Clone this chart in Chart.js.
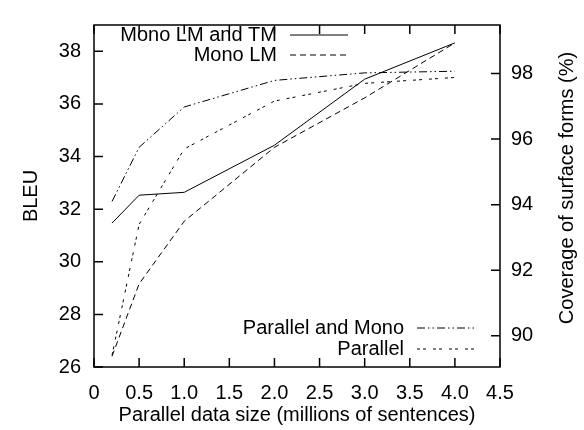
<!DOCTYPE html>
<html>
<head>
<meta charset="utf-8">
<script src="https://cdn.jsdelivr.net/npm/chart.js@4.4.0/dist/chart.umd.min.js"></script>
<style>
  html, body { margin: 0; padding: 0; background: #fff; }
  #wrap { width: 584px; height: 430px; }
</style>
</head>
<body>
<div id="wrap"><canvas id="chart" width="584" height="430"></canvas></div>
<script>
// data size in millions of sentences
const sizes = [0.2, 0.5, 1, 2, 3, 4]

// BLEU (left axis)
const monoLmTm = [31.47, 32.53, 32.64, 34.43, 36.94, 38.32]
const monoLm = [26.41, 29.16, 31.54, 34.35, 36.23, 38.32]

// coverage of surface forms in % (right axis)
const parallelMono = [94.10, 95.75, 96.98, 97.79, 98.02, 98.07]
const parallel = [89.41, 93.40, 95.70, 97.16, 97.70, 97.88]

const xTicks = [0, 0.5, 1, 1.5, 2, 2.5, 3, 3.5, 4, 4.5]
const bleuTicks = [26, 28, 30, 32, 34, 36, 38]
const coverTicks = [90, 92, 94, 96, 98]

const coverTitle = 'Coverage of surface forms (%)'

const FONT = 'Liberation Sans, Arial, Helvetica, sans-serif'
const SIZE = 20

function points(ys) {
    return sizes.map((x, i) => ({x: x, y: ys[i]}))
}

function fixTicks(list) {
    return function(scale) {
        scale.ticks = list.map(v => ({value: v}))
    }
}

// gnuplot-like frame with inward ticks, the key and the right title
const framePlugin = {
    id: 'frame',
    afterDraw(chart) {
        const ctx = chart.ctx
        const a = chart.chartArea
        const tick = 9
        ctx.save()
        ctx.strokeStyle = '#000'
        ctx.lineWidth = 1.5
        ctx.setLineDash([])
        ctx.strokeRect(a.left, a.top, a.right - a.left, a.bottom - a.top)
        ctx.beginPath()
        xTicks.forEach(v => {
            const px = chart.scales.x.getPixelForValue(v)
            ctx.moveTo(px, a.bottom); ctx.lineTo(px, a.bottom - tick)
            ctx.moveTo(px, a.top); ctx.lineTo(px, a.top + tick)
        })
        bleuTicks.forEach(v => {
            const py = chart.scales.y.getPixelForValue(v)
            ctx.moveTo(a.left, py); ctx.lineTo(a.left + tick, py)
        })
        coverTicks.forEach(v => {
            const py = chart.scales.y2.getPixelForValue(v)
            ctx.moveTo(a.right, py); ctx.lineTo(a.right - tick, py)
        })
        ctx.stroke()

        ctx.font = SIZE + 'px ' + FONT
        ctx.fillStyle = '#000'
        ctx.textBaseline = 'middle'

        // right axis title, reading bottom to top like the left one
        ctx.save()
        ctx.translate(567, (a.top + a.bottom) / 2 - 8)
        ctx.rotate(-Math.PI / 2)
        ctx.textAlign = 'center'
        ctx.fillText(coverTitle, 0, 0)
        ctx.restore()

        // key
        ctx.textAlign = 'right'
        const keys = [
            {ds: 0, tx: 277, y: 35, x1: 290, x2: 348},
            {ds: 1, tx: 277, y: 55, x1: 290, x2: 348},
            {ds: 2, tx: 404, y: 328, x1: 417, x2: 475},
            {ds: 3, tx: 404, y: 349, x1: 417, x2: 475}
        ]
        keys.forEach(k => {
            const ds = chart.data.datasets[k.ds]
            ctx.fillText(ds.label, k.tx, k.y)
            ctx.beginPath()
            ctx.lineWidth = 1
            ctx.setLineDash(ds.borderDash || [])
            ctx.moveTo(k.x1, k.y)
            ctx.lineTo(k.x2, k.y)
            ctx.stroke()
        })
        ctx.restore()
    }
}

const data = {
    datasets: [
        {label: 'Mono LM and TM', data: points(monoLmTm), yAxisID: 'y', borderDash: []},
        {label: 'Mono LM', data: points(monoLm), yAxisID: 'y', borderDash: [6, 4]},
        {label: 'Parallel and Mono', data: points(parallelMono), yAxisID: 'y2', borderDash: [8, 3, 1.5, 3, 1.5, 3]},
        {label: 'Parallel', data: points(parallel), yAxisID: 'y2', borderDash: [3, 3, 3, 7]}
    ].map(d => Object.assign(d, {
        borderColor: '#000',
        borderWidth: 1,
        pointRadius: 0,
        tension: 0,
        fill: false
    }))
}

const config = {
    type: 'line',
    data: data,
    options: {
        responsive: false,
        animation: false,
        layout: {padding: {top: 15, left: 0, right: 0, bottom: 0}},
        plugins: {legend: {display: false}, tooltip: {enabled: false}},
        scales: {
            x: {
                type: 'linear', min: 0, max: 4.5,
                afterBuildTicks: fixTicks(xTicks),
                afterFit: s => { s.height = 63 },
                grid: {display: false, drawTicks: false},
                border: {display: false},
                ticks: {color: '#000', font: {family: FONT, size: SIZE}, padding: 14,
                        maxRotation: 0, autoSkip: false},
                title: {display: true, text: 'Parallel data size (millions of sentences)',
                        color: '#000', font: {family: FONT, size: SIZE}, padding: 3}
            },
            y: {
                position: 'left', min: 26, max: 39,
                afterBuildTicks: fixTicks(bleuTicks),
                afterFit: s => { s.width = 94 },
                grid: {display: false, drawTicks: false},
                border: {display: false},
                ticks: {color: '#000', font: {family: FONT, size: SIZE}, padding: 13},
                title: {display: true, text: 'BLEU', color: '#000',
                        font: {family: FONT, size: SIZE}, padding: 19}
            },
            y2: {
                position: 'right', min: 89.05, max: 99.48,
                afterBuildTicks: fixTicks(coverTicks),
                afterFit: s => { s.width = 84 },
                grid: {display: false, drawTicks: false},
                border: {display: false},
                ticks: {color: '#000', font: {family: FONT, size: SIZE}, padding: 11}
            }
        }
    },
    plugins: [framePlugin]
}

new Chart(document.getElementById('chart').getContext('2d'), config)
</script>
</body>
</html>
